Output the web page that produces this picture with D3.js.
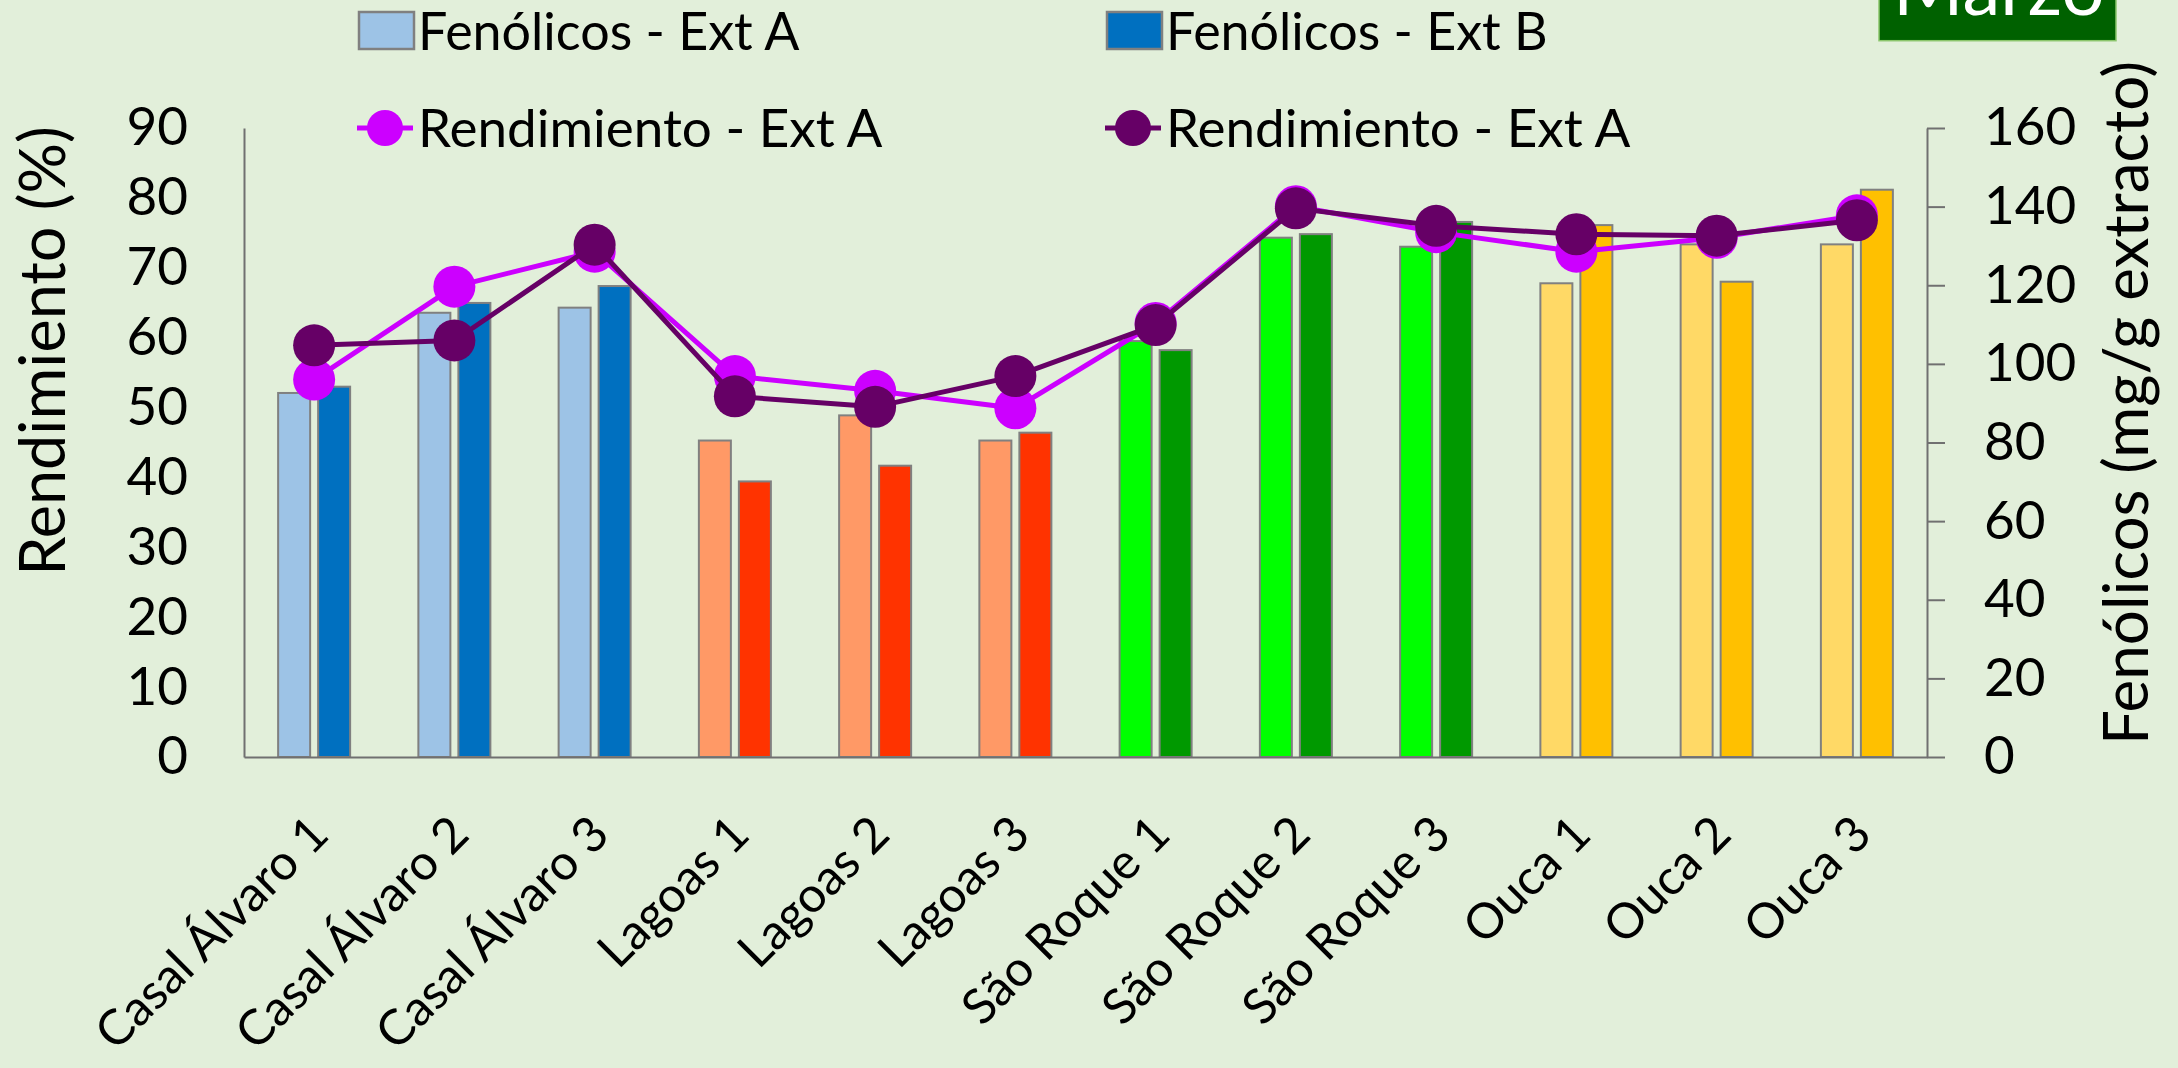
<!DOCTYPE html>
<html>
<head>
<meta charset="utf-8">
<script src="https://cdn.jsdelivr.net/npm/d3@7"></script>
<style>
  html, body { margin: 0; padding: 0; background: #E2EFDA; }
  svg { display: block; font-family: Lato, "Open Sans", sans-serif; }
</style>
</head>
<body>
<svg id="chart" width="2178" height="1068"></svg>
<script>
// Sampling sites and replicate labels
const categories = [
  "Casal Álvaro 1", "Casal Álvaro 2", "Casal Álvaro 3",
  "Lagoas 1", "Lagoas 2", "Lagoas 3",
  "São Roque 1", "São Roque 2", "São Roque 3",
  "Ouca 1", "Ouca 2", "Ouca 3"
];
const siteOf = ["Casal Álvaro", "Casal Álvaro", "Casal Álvaro",
  "Lagoas", "Lagoas", "Lagoas",
  "São Roque", "São Roque", "São Roque",
  "Ouca", "Ouca", "Ouca"];

// Total phenolics (mg/g extracto), right axis
const fenolicosA = [92.6, 113.0, 114.3, 80.5, 86.9, 80.5, 105.8, 132.1, 129.8, 120.5, 130.4, 130.4];
const fenolicosB = [94.2, 115.5, 119.8, 70.1, 74.1, 82.5, 103.5, 133.0, 136.1, 135.3, 120.9, 144.3];

// Extraction yield (%), left axis
const rendimientoA1 = [54.0, 67.3, 72.3, 54.5, 52.4, 49.9, 62.1, 78.8, 75.1, 72.3, 74.3, 77.5];
const rendimientoA2 = [58.9, 59.6, 73.3, 51.6, 50.1, 54.5, 61.8, 78.5, 76.0, 74.8, 74.6, 76.8];

// Axis ticks
const leftTicks = [0, 10, 20, 30, 40, 50, 60, 70, 80, 90];
const rightTicks = [0, 20, 40, 60, 80, 100, 120, 140, 160];

const seriesNames = ["Fenólicos - Ext A", "Fenólicos - Ext B", "Rendimiento - Ext A", "Rendimiento - Ext A"];
const monthLabel = "Marzo";

// Bar fills per site: [extract A, extract B]
const palette = {
  "Casal Álvaro": ["#9DC3E6", "#0070C0"],
  "Lagoas": ["#FF9966", "#FF3300"],
  "São Roque": ["#00FF00", "#009900"],
  "Ouca": ["#FFD966", "#FFC000"]
};
const lineColors = ["#CC00FF", "#660066"];
const axisColor = "#707070";
const barStroke = "#808080";

const svg = d3.select("#chart");
const plot = { left: 244, right: 1927, top: 128, bottom: 757 };

const x0 = d3.scaleBand().domain(categories).range([plot.left, plot.right]);
const xInner = d3.scaleBand().domain(["A", "B"]).range([0, 72]).paddingInner(0.2);
const yL = d3.scaleLinear().domain([0, 90]).range([plot.bottom, plot.top]);
const yR = d3.scaleLinear().domain([0, 160]).range([plot.bottom, plot.top]);
const cx = c => x0(c) + x0.bandwidth() / 2;

// Bars
const barData = [];
categories.forEach((c, i) => {
  barData.push({ c, key: "A", v: fenolicosA[i], fill: palette[siteOf[i]][0] });
  barData.push({ c, key: "B", v: fenolicosB[i], fill: palette[siteOf[i]][1] });
});
svg.append("g").selectAll("rect").data(barData).join("rect")
  .attr("x", d => cx(d.c) - 36 + xInner(d.key))
  .attr("width", xInner.bandwidth())
  .attr("y", d => yR(d.v))
  .attr("height", d => yR(0) - yR(d.v))
  .attr("fill", d => d.fill)
  .attr("stroke", barStroke)
  .attr("stroke-width", 2);

// Axes
const tickFont = 53;
function styleAxis(g) {
  g.selectAll("path, line").attr("stroke", axisColor).attr("stroke-width", 2);
  g.selectAll("text").attr("fill", "#000").style("font-size", tickFont + "px").style("font-family", "Lato, sans-serif");
}
svg.append("g")
  .attr("transform", `translate(${plot.left},0)`)
  .call(d3.axisLeft(yL).tickValues(leftTicks).tickSize(0).tickPadding(56))
  .call(styleAxis);

svg.append("g")
  .attr("transform", `translate(${plot.right},0)`)
  .call(d3.axisRight(yR).tickValues(rightTicks).tickSizeInner(18).tickSizeOuter(0).tickPadding(39))
  .call(styleAxis);

const xAxis = svg.append("g")
  .attr("transform", `translate(0,${plot.bottom})`)
  .call(d3.axisBottom(x0).tickSize(0).tickSizeOuter(0))
  .call(styleAxis);
xAxis.selectAll("text")
  .style("font-size", "49px")
  .attr("y", 0).attr("dy", 0)
  .attr("text-anchor", "end")
  .attr("transform", "translate(17,80) rotate(-45)");

// Yield lines and markers
[rendimientoA1, rendimientoA2].forEach((vals, k) => {
  const pts = vals.map((v, i) => [cx(categories[i]), yL(v)]);
  const g = svg.append("g");
  g.append("path")
    .attr("d", d3.line()(pts))
    .attr("fill", "none")
    .attr("stroke", lineColors[k])
    .attr("stroke-width", 5)
    .attr("stroke-linejoin", "round");
  g.selectAll("circle").data(pts).join("circle")
    .attr("cx", d => d[0]).attr("cy", d => d[1])
    .attr("r", 21)
    .attr("fill", lineColors[k]);
});

// Axis titles
svg.append("text")
  .attr("transform", "translate(65,351) rotate(-90)")
  .attr("text-anchor", "middle")
  .style("font-size", "63px")
  .text("Rendimiento (%)");
svg.append("text")
  .attr("transform", "translate(2148,403) rotate(-90)")
  .attr("text-anchor", "middle")
  .style("font-size", "62px")
  .text("Fenólicos (mg/g extracto)");

// Legend
const legend = svg.append("g");
const colX = [359, 1107];
[0, 1].forEach(k => {
  legend.append("rect")
    .attr("x", colX[k]).attr("y", 12).attr("width", 55).attr("height", 37)
    .attr("fill", palette["Casal Álvaro"][k])
    .attr("stroke", barStroke).attr("stroke-width", 2.5);
  legend.append("text")
    .attr("x", colX[k] + 59).attr("y", 50)
    .style("font-size", "52px")
    .text(seriesNames[k]);
  legend.append("line")
    .attr("x1", colX[k] - 2).attr("x2", colX[k] + 54)
    .attr("y1", 128).attr("y2", 128)
    .attr("stroke", lineColors[k]).attr("stroke-width", 5);
  legend.append("circle")
    .attr("cx", colX[k] + 26).attr("cy", 128).attr("r", 18)
    .attr("fill", lineColors[k]);
  legend.append("text")
    .attr("x", colX[k] + 59).attr("y", 147)
    .style("font-size", "53px")
    .text(seriesNames[2 + k]);
});

// Month tag
svg.append("rect")
  .attr("x", 1879).attr("y", -40).attr("width", 237).attr("height", 80.7)
  .attr("fill", "#006100").attr("stroke", "#8BC56B").attr("stroke-width", 1.5);
svg.append("text")
  .attr("x", 1893).attr("y", 15)
  .attr("fill", "#fff")
  .style("font-size", "76px")
  .text(monthLabel);
</script>
</body>
</html>
